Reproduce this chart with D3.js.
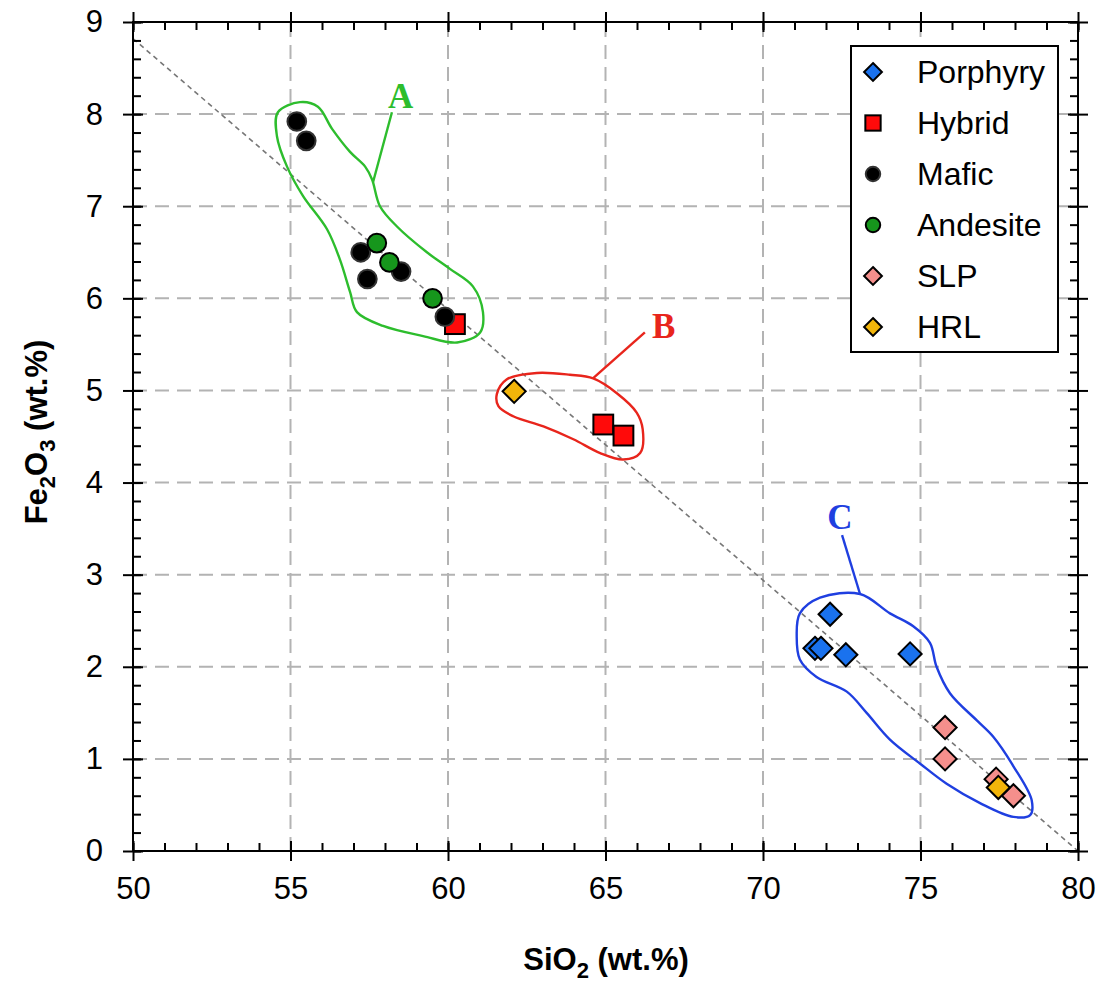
<!DOCTYPE html>
<html>
<head>
<meta charset="utf-8">
<script src="https://cdn.jsdelivr.net/npm/d3@7"></script>
<style>
  body { margin: 0; background: #fff; }
  text { font-family: "Liberation Sans", Arial, sans-serif; }
</style>
</head>
<body>
<div id="chart"></div>
<script>
// data (SiO2, Fe2O3 in wt.%)
var porphyry = [[72.13, 2.57], [71.65, 2.20], [71.84, 2.20], [72.63, 2.13], [74.67, 2.14]];
var hybrid = [[60.22, 5.72], [64.93, 4.63], [65.57, 4.51]];
var mafic = [[55.2, 7.92], [55.5, 7.71], [57.23, 6.50], [57.44, 6.21], [58.51, 6.29], [59.9, 5.80]];
var andesite = [[57.74, 6.60], [58.14, 6.39], [59.51, 6.0]];
var slp = [[75.78, 1.34], [75.78, 1.0], [77.4, 0.78], [77.95, 0.6]];
var hrl = [[62.1, 4.99], [77.47, 0.69]];

var xTicks = [50, 55, 60, 65, 70, 75, 80];
var yTicks = [0, 1, 2, 3, 4, 5, 6, 7, 8, 9];
var trendLine = [[50, 8.82], [80, 0]];

// hand drawn group outlines
var outlineA = [[54.60, 8.02], [55.30, 8.13], [55.87, 8.08], [56.32, 7.84], [56.89, 7.59], [57.37, 7.43],
  [57.59, 7.29], [57.84, 7.0], [58.38, 6.78], [59.33, 6.5], [60.06, 6.32], [60.79, 6.13], [61.11, 5.85],
  [61.02, 5.63], [60.29, 5.52], [59.21, 5.59], [57.94, 5.70], [57.11, 5.85], [56.89, 6.07], [56.57, 6.42],
  [56.16, 6.75], [55.40, 7.11], [54.89, 7.43], [54.57, 7.76]];
var outlineB = [[61.55, 4.96], [61.86, 5.12], [62.82, 5.19], [63.87, 5.17], [64.61, 5.13], [65.36, 4.97],
  [65.99, 4.76], [66.18, 4.58], [66.10, 4.32], [65.57, 4.25], [64.83, 4.32], [63.98, 4.47], [63.03, 4.61],
  [62.07, 4.72], [61.60, 4.83]];
var outlineC = [[71.17, 2.58], [71.81, 2.75], [73.08, 2.79], [74.03, 2.58], [74.77, 2.44], [75.30, 2.26],
  [75.51, 2.0], [75.94, 1.71], [76.78, 1.42], [77.31, 1.24], [77.95, 0.92], [78.53, 0.55], [78.48, 0.39],
  [77.95, 0.37], [76.89, 0.52], [75.83, 0.73], [74.98, 0.95], [74.03, 1.21], [73.29, 1.50], [72.66, 1.73],
  [71.70, 1.89], [71.17, 2.08], [71.07, 2.33]];
var groupLabels = [
  { name: "A", color: "#2dbd2d", outline: outlineA, leader: [[57.62, 7.26], [58.22, 8.02]], pos: [58.5, 8.2] },
  { name: "B", color: "#e8251c", outline: outlineB, leader: [[64.6, 5.13], [66.25, 5.63]], pos: [66.85, 5.70] },
  { name: "C", color: "#1f3fe0", outline: outlineC, leader: [[73.08, 2.79], [72.51, 3.43]], pos: [72.44, 3.63] }
];

var series = [
  { name: "Porphyry", data: porphyry, shape: "diamond", fill: "#1a72ee" },
  { name: "Hybrid", data: hybrid, shape: "square", fill: "#ff0a0a" },
  { name: "Mafic", data: mafic, shape: "circle", fill: "#000000" },
  { name: "Andesite", data: andesite, shape: "circle", fill: "#16961c" },
  { name: "SLP", data: slp, shape: "diamond", fill: "#f58f8c" },
  { name: "HRL", data: hrl, shape: "diamond", fill: "#f2b50a" }
];

var W = 1102, H = 983;
var x = d3.scaleLinear().domain([50, 80]).range([133, 1078]);
var y = d3.scaleLinear().domain([0, 9]).range([851, 22]);

var svg = d3.select("#chart").append("svg")
  .attr("width", W).attr("height", H);

// grid
svg.append("g").selectAll("line").data(xTicks.slice(1, -1)).enter().append("line")
  .attr("x1", d => x(d)).attr("x2", d => x(d)).attr("y1", y(0)).attr("y2", y(9))
  .attr("stroke", "#b3b3b3").attr("stroke-width", 2).attr("stroke-dasharray", "14,8");
svg.append("g").selectAll("line").data(yTicks.slice(1, -1)).enter().append("line")
  .attr("y1", d => y(d)).attr("y2", d => y(d)).attr("x1", x(50)).attr("x2", x(80))
  .attr("stroke", "#b3b3b3").attr("stroke-width", 2).attr("stroke-dasharray", "14,8");

// trend line
var line = d3.line().x(d => x(d[0])).y(d => y(d[1]));
svg.append("path").attr("d", line(trendLine))
  .attr("fill", "none").attr("stroke", "#777").attr("stroke-width", 1.6).attr("stroke-dasharray", "5,4");

// outlines + labels
var outlineLine = d3.line().x(d => x(d[0])).y(d => y(d[1])).curve(d3.curveCatmullRomClosed.alpha(0.5));
groupLabels.forEach(function (g) {
  svg.append("path").attr("d", outlineLine(g.outline))
    .attr("fill", "none").attr("stroke", g.color).attr("stroke-width", 2.4);
  svg.append("path").attr("d", line(g.leader))
    .attr("fill", "none").attr("stroke", g.color).attr("stroke-width", 2.4);
  svg.append("text").attr("x", x(g.pos[0])).attr("y", y(g.pos[1]) + 12)
    .attr("text-anchor", "middle")
    .style("font-family", "'Liberation Serif', 'Times New Roman', serif")
    .style("font-weight", "bold").style("font-size", "35px")
    .attr("fill", g.color).text(g.name);
});

// markers
function drawMarker(sel, shape, size) {
  if (shape === "circle") {
    sel.append("circle").attr("r", size * 0.85);
  } else if (shape === "square") {
    sel.append("rect").attr("x", -size * 0.9).attr("y", -size * 0.9)
      .attr("width", size * 1.8).attr("height", size * 1.8);
  } else {
    var s = size * 1.05;
    sel.append("path").attr("d", "M0," + (-s) + "L" + s + ",0L0," + s + "L" + (-s) + ",0Z");
  }
}

series.forEach(function (s) {
  var g = svg.append("g");
  g.selectAll("g").data(s.data).enter().append("g")
    .attr("transform", d => "translate(" + x(d[0]) + "," + y(d[1]) + ")")
    .each(function () {
      drawMarker(d3.select(this), s.shape, 11);
    })
    .selectAll("*")
    .attr("fill", s.fill)
    .attr("stroke", s.name === "Mafic" ? "#333" : "#000")
    .attr("stroke-width", 2);
});

// frame + axes
svg.append("rect").attr("x", x(50)).attr("y", y(9))
  .attr("width", x(80) - x(50)).attr("height", y(0) - y(9))
  .attr("fill", "none").attr("stroke", "#000").attr("stroke-width", 2);

var xMinor = d3.range(50, 81, 1);
var yMinor = d3.range(0, 9.01, 0.2);
var fmt = d3.format("d");

function styleAxis(g) {
  g.select(".domain").remove();
  g.selectAll(".tick line").attr("stroke", "#000").attr("stroke-width", 2);
  g.selectAll(".tick text").style("font-size", "31px").attr("fill", "#000");
}

// bottom
svg.append("g").attr("transform", "translate(0," + y(0) + ")")
  .call(d3.axisBottom(x).tickValues(xTicks).tickFormat(fmt).tickSize(10).tickPadding(16)).call(styleAxis);
svg.append("g").attr("transform", "translate(0," + y(0) + ")")
  .call(d3.axisBottom(x).tickValues(xMinor).tickFormat("").tickSize(-8)).call(styleAxis);
svg.append("g").attr("transform", "translate(0," + y(0) + ")")
  .call(d3.axisBottom(x).tickValues(xTicks).tickFormat("").tickSize(-10)).call(styleAxis);
// top
svg.append("g").attr("transform", "translate(0," + y(9) + ")")
  .call(d3.axisTop(x).tickValues(xMinor).tickFormat("").tickSize(-8)).call(styleAxis);
svg.append("g").attr("transform", "translate(0," + y(9) + ")")
  .call(d3.axisTop(x).tickValues(xTicks).tickFormat("").tickSize(10)).call(styleAxis);
svg.append("g").attr("transform", "translate(0," + y(9) + ")")
  .call(d3.axisTop(x).tickValues(xTicks).tickFormat("").tickSize(-10)).call(styleAxis);
// left
svg.append("g").attr("transform", "translate(" + x(50) + ",0)")
  .call(d3.axisLeft(y).tickValues(yTicks).tickFormat(fmt).tickSize(10).tickPadding(20)).call(styleAxis);
svg.append("g").attr("transform", "translate(" + x(50) + ",0)")
  .call(d3.axisLeft(y).tickValues(yMinor).tickFormat("").tickSize(-8)).call(styleAxis);
svg.append("g").attr("transform", "translate(" + x(50) + ",0)")
  .call(d3.axisLeft(y).tickValues(yTicks).tickFormat("").tickSize(-10)).call(styleAxis);
// right
svg.append("g").attr("transform", "translate(" + x(80) + ",0)")
  .call(d3.axisRight(y).tickValues(yMinor).tickFormat("").tickSize(-8)).call(styleAxis);
svg.append("g").attr("transform", "translate(" + x(80) + ",0)")
  .call(d3.axisRight(y).tickValues(yTicks).tickFormat("").tickSize(10)).call(styleAxis);
svg.append("g").attr("transform", "translate(" + x(80) + ",0)")
  .call(d3.axisRight(y).tickValues(yTicks).tickFormat("").tickSize(-10)).call(styleAxis);

// axis titles
var xt = svg.append("text").attr("x", 606).attr("y", 970).attr("text-anchor", "middle")
  .style("font-size", "31px").style("font-weight", "bold");
xt.append("tspan").text("SiO");
xt.append("tspan").attr("dy", 8).style("font-size", "22px").text("2");
xt.append("tspan").attr("dy", -8).text(" (wt.%)");

var yt = svg.append("text").attr("transform", "translate(47,432) rotate(-90)").attr("text-anchor", "middle")
  .style("font-size", "31px").style("font-weight", "bold");
yt.append("tspan").text("Fe");
yt.append("tspan").attr("dy", 8).style("font-size", "22px").text("2");
yt.append("tspan").attr("dy", -8).text("O");
yt.append("tspan").attr("dy", 8).style("font-size", "22px").text("3");
yt.append("tspan").attr("dy", -8).text(" (wt.%)");

// legend
var lg = svg.append("g").attr("transform", "translate(851,46)");
lg.append("rect").attr("width", 207).attr("height", 306)
  .attr("fill", "#fff").attr("stroke", "#000").attr("stroke-width", 2);
var rows = lg.selectAll("g.row").data(series).enter().append("g").attr("class", "row")
  .attr("transform", (d, i) => "translate(22," + (26 + i * 51) + ")");
rows.each(function (d) {
  var m = d3.select(this).append("g");
  drawMarker(m, d.shape, 8.5);
  m.selectAll("*").attr("fill", d.fill).attr("stroke", d.name === "Mafic" ? "#333" : "#000").attr("stroke-width", 2);
});
rows.append("text").attr("x", 44).attr("y", 11).style("font-size", "32px").text(d => d.name);
</script>
</body>
</html>
